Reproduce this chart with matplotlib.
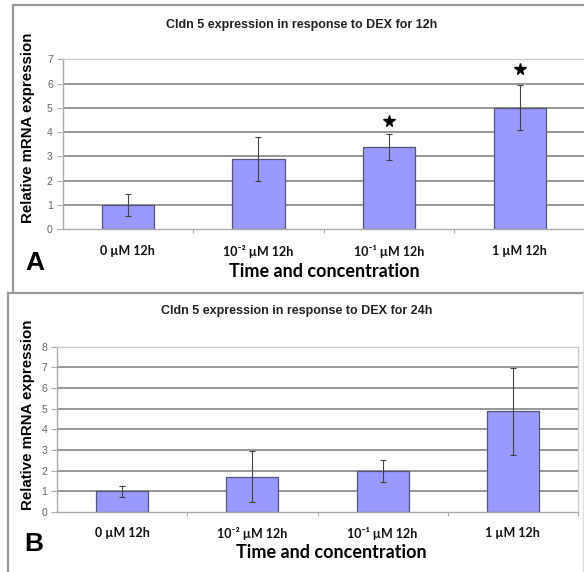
import matplotlib
matplotlib.use('Agg')
import matplotlib.pyplot as plt
from matplotlib.lines import Line2D

# ---- data ----
categories = ['0 µM 12h', '10⁻² µM 12h', '10⁻¹ µM 12h', '1 µM 12h']
means_12h = [1.0, 2.9, 3.38, 5.0]
err_12h = [0.44, 0.91, 0.54, 0.93]
star_12h = [None, None, 4.47, 6.61]
yticks_12h = [0, 1, 2, 3, 4, 5, 6, 7]
title_12h = 'Cldn 5 expression in response to DEX for 12h'

means_24h = [1.0, 1.7, 2.0, 4.87]
err_24h = [0.27, 1.24, 0.53, 2.12]
star_24h = [None, None, None, None]
yticks_24h = [0, 1, 2, 3, 4, 5, 6, 7, 8]
title_24h = 'Cldn 5 expression in response to DEX for 24h'

ylabel = 'Relative mRNA expression'
xlabel = 'Time and concentration'

W, H = 584, 572
fig = plt.figure(figsize=(W / 100, H / 100), dpi=100)
fig.patch.set_facecolor('white')

TITLE_FONT = ['Liberation Sans', 'DejaVu Sans']
SANS = ['Liberation Sans', 'DejaVu Sans']
CAL = ['Lato', 'DejaVu Sans']


def fx(x):
    return x / W


def fy(y):
    return 1 - y / H


def axes_px(left, top, right, bottom):
    return fig.add_axes([fx(left), fy(bottom), (right - left) / W, (bottom - top) / H])


def panel(ax, means, errs, stars, yticks, show_right):
    x = list(range(len(categories)))
    ax.set_xlim(-0.5, len(categories) - 0.5)
    ax.set_ylim(yticks[0], yticks[-1])
    for yv in yticks[1:-1]:
        ax.axhline(yv, color='#858585', lw=1.2, zorder=0)
    ax.bar(x, means, width=0.4, color='#9999FF', edgecolor='#555577', linewidth=0.9, zorder=2)
    ax.errorbar(x, means, yerr=errs, fmt='none', ecolor='#444444', elinewidth=0.8,
                capsize=2, capthick=0.8, zorder=3)
    for xi, s in zip(x, stars):
        if s is not None:
            ax.plot(xi, s, marker='*', color='black', markersize=8.5, zorder=4, clip_on=False)
    ax.set_yticks(yticks)
    ax.set_yticklabels([str(t) for t in yticks], fontsize=7.5, color='#666666', family=SANS)
    ax.set_xticks(x)
    ax.set_xticklabels(categories, fontsize=9, fontweight='bold', family=CAL, color='#111111')
    ax.set_xticks([i + 0.5 for i in x[:-1]] + ([x[-1] + 0.5] if show_right else []), minor=True)
    ax.tick_params(axis='x', which='major', length=0, pad=11)
    ax.tick_params(axis='x', which='minor', length=3, color='#999999', direction='out')
    ax.tick_params(axis='y', length=4, color='#aaaaaa', direction='out', pad=3)
    for sp in ['left', 'bottom']:
        ax.spines[sp].set_color('#aaaaaa')
        ax.spines[sp].set_linewidth(1.0)
    ax.spines['top'].set_color('#cccccc')
    ax.spines['top'].set_linewidth(1.0)
    if show_right:
        ax.spines['right'].set_color('#cccccc')
        ax.spines['right'].set_linewidth(1.0)
    else:
        ax.spines['right'].set_visible(False)
    ax.set_facecolor('white')


# Panel frames
frame_c = '#999999'
fig.add_artist(Line2D([fx(13), fx(600)], [fy(5), fy(5)], color=frame_c, lw=1.6))
fig.add_artist(Line2D([fx(13), fx(13)], [fy(5), fy(291)], color=frame_c, lw=1.6))
fig.add_artist(Line2D([fx(7.5), fx(600)], [fy(293), fy(293)], color=frame_c, lw=1.6))
fig.add_artist(Line2D([fx(7.5), fx(7.5)], [fy(293), fy(600)], color=frame_c, lw=1.6))
fig.add_artist(Line2D([fx(583), fx(583)], [fy(293), fy(600)], color='#dddddd', lw=1.0))

# Panel A
axA = axes_px(62.5, 59.3, 585, 229.3)
panel(axA, means_12h, err_12h, star_12h, yticks_12h, show_right=False)
fig.text(fx(302), fy(25), title_12h, ha='center', va='center', fontsize=9,
         fontweight='bold', family=TITLE_FONT, color='#222222')
fig.text(fx(324), fy(271.5), xlabel, ha='center', va='center', fontsize=13,
         fontweight='bold', family=CAL, color='black')
fig.text(fx(28), fy(128), ylabel, ha='center', va='center', rotation=90, fontsize=10.8,
         fontweight='bold', family=SANS, color='black')
fig.text(fx(34.5), fy(262.5), 'A', ha='center', va='center', fontsize=19,
         fontweight='bold', family=SANS, color='black')

# Panel B
axB = axes_px(57, 346.7, 578, 512)
panel(axB, means_24h, err_24h, star_24h, yticks_24h, show_right=True)
fig.text(fx(297), fy(310.7), title_24h, ha='center', va='center', fontsize=9,
         fontweight='bold', family=TITLE_FONT, color='#222222')
fig.text(fx(331), fy(553), xlabel, ha='center', va='center', fontsize=13,
         fontweight='bold', family=CAL, color='black')
fig.text(fx(28), fy(415), ylabel, ha='center', va='center', rotation=90, fontsize=10.8,
         fontweight='bold', family=SANS, color='black')
fig.text(fx(33.5), fy(544), 'B', ha='center', va='center', fontsize=19,
         fontweight='bold', family=SANS, color='black')

fig.savefig('out.png', dpi=100, facecolor='white')
